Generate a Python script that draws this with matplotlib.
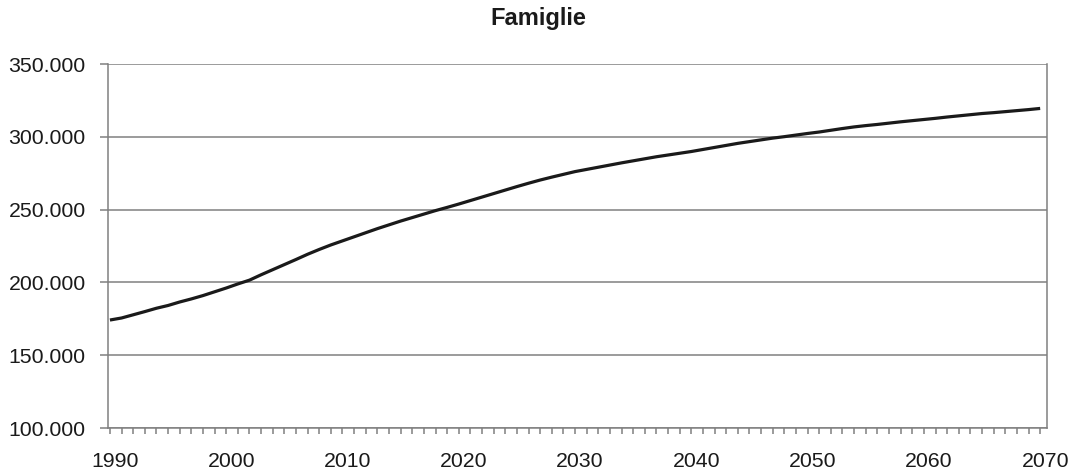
import numpy as np
import matplotlib
matplotlib.use("Agg")
import matplotlib.pyplot as plt
from matplotlib.ticker import FuncFormatter, MultipleLocator
from matplotlib.transforms import ScaledTranslation

plt.rcParams['font.family'] = ['Liberation Sans', 'DejaVu Sans']

years = list(range(1990, 2071))
famiglie = [
    174200, 175600, 177800, 180000, 182300, 184200, 186600, 188700, 191000, 193600,  # 1990s
    196200, 199000, 201600, 205300, 208800, 212300, 215800, 219400, 222700, 225800,  # 2000s
    228600, 231400, 234200, 237000, 239600, 242200, 244600, 247000, 249400, 251600,  # 2010s
    253900, 256300, 258700, 261100, 263500, 265900, 268200, 270400, 272400, 274300,  # 2020s
    276200, 277700, 279200, 280700, 282200, 283600, 285000, 286400, 287600, 288800,  # 2030s
    290000, 291400, 292800, 294200, 295600, 296800, 298000, 299200, 300200, 301300,  # 2040s
    302400, 303400, 304600, 305800, 306900, 307800, 308600, 309500, 310400, 311200,  # 2050s
    312000, 312800, 313700, 314500, 315300, 316100, 316700, 317400, 318100, 318800,  # 2060s
    319600,  # 2070
]

title = "Famiglie"
grid_color = "#808080"
text_color = "#1a1a1a"

fig = plt.figure(figsize=(10.84, 4.72), dpi=100)
ax = fig.add_axes([0.0996, 0.0932, 0.966 - 0.0996, 0.864 - 0.0932])

ax.plot(years, famiglie, color=text_color, linewidth=2.3, solid_capstyle="butt")

ax.set_ylim(100000, 350000)
ax.set_xlim(1989.83, 2070.6)
ax.yaxis.set_major_locator(MultipleLocator(50000))
ax.yaxis.set_major_formatter(FuncFormatter(lambda v, p: f"{int(v):,}".replace(",", ".")))
ax.set_xticks(range(1990, 2071, 10))
ax.xaxis.set_minor_locator(MultipleLocator(1))

ax.grid(axis="y", color=grid_color, linewidth=1.1)
ax.set_axisbelow(True)
for side in ["left", "right", "bottom"]:
    ax.spines[side].set_color(grid_color)
    ax.spines[side].set_linewidth(1.1)
ax.spines["top"].set_visible(False)

ax.tick_params(axis="y", length=6, width=1.1, color=grid_color, pad=10, labelsize=15.3, labelcolor=text_color)
ax.tick_params(axis="x", which="both", length=4, width=1.1, color=grid_color, pad=13, labelsize=15.3, labelcolor=text_color)

# year labels sit a little right of their tick, as in the original
shift = ScaledTranslation(5 / 100, 0, fig.dpi_scale_trans)
for lab in ax.get_xticklabels():
    lab.set_transform(lab.get_transform() + shift)

fig.text(0.497, 1 - 25 / 472, title, ha="center", va="baseline", fontsize=17, fontweight="bold", color=text_color)

fig.savefig("out.png", dpi=100)
